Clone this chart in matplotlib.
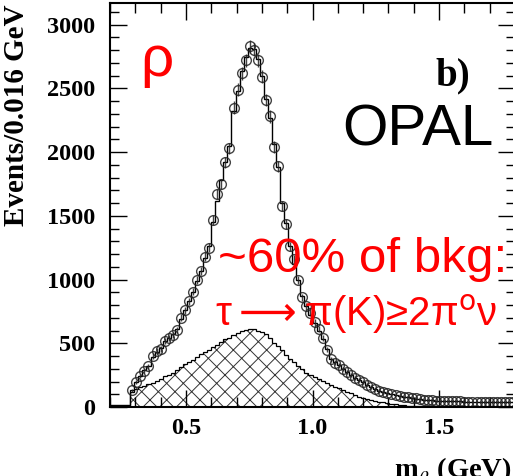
import numpy as np
import matplotlib
matplotlib.use("Agg")
import matplotlib.pyplot as plt
from matplotlib.ticker import MultipleLocator

# bins of 0.016 GeV from 0.2 to 1.8
bin_lo, bin_hi, bin_w = 0.2, 1.8, 0.016

# data points (bins 5..99)
data_counts = [130, 195, 240, 285, 318, 400, 440, 455, 520, 540,
               565, 605, 700, 760, 830, 905, 995, 1065, 1180, 1250,
               1465, 1670, 1750, 1920, 2030, 2350, 2490, 2620, 2720, 2830,
               2805, 2720, 2590, 2410, 2280, 2040, 1890, 1575, 1435, 1260,
               1160, 1000, 860, 790, 740, 665, 610, 540, 450, 375,
               345, 330, 300, 272, 248, 230, 212, 195, 175, 157,
               138, 122, 115, 108, 100, 92, 85, 80, 76, 72,
               68, 62, 58, 55, 52, 50, 48, 47, 46, 45,
               45, 44, 43, 43, 42, 42, 41, 41, 40, 40,
               40, 39, 39, 38, 38]

# total MC (all 100 bins)
mc_total = [12, 14, 15, 16, 18,
            120, 195, 245, 290, 325, 395, 430, 460, 515, 545,
            570, 610, 690, 760, 830, 905, 990, 1065, 1170, 1260,
            1450, 1620, 1780, 1920, 2050, 2320, 2480, 2640, 2750, 2820,
            2810, 2730, 2600, 2420, 2270, 2060, 1880, 1600, 1440, 1260,
            1120, 1000, 870, 790, 720, 660, 600, 530, 455, 380,
            350, 330, 300, 272, 250, 228, 212, 195, 175, 158,
            140, 124, 115, 108, 100, 92, 85, 80, 75, 70,
            66, 62, 58, 55, 52, 50, 48, 47, 46, 45,
            44, 44, 43, 42, 42, 41, 41, 40, 40, 40,
            39, 39, 38, 38, 38]

# background (all 100 bins)
bkg = [0, 0, 0, 0, 0,
       130, 145, 155, 165, 178, 188, 205, 220, 240, 255,
       270, 290, 310, 335, 355, 370, 395, 415, 435, 450,
       470, 490, 512, 530, 545, 565, 583, 597, 607, 614,
       612, 600, 588, 570, 540, 505, 475, 445, 410, 380,
       350, 320, 295, 270, 250, 235, 218, 205, 190, 175,
       158, 148, 135, 120, 108, 95, 82, 72, 62, 55,
       48, 42, 36, 32, 26, 21, 16, 13, 10, 8,
       6, 5, 4, 3, 2, 1, 1, 0, 0, 0,
       0, 0, 0, 0, 0, 0, 0, 0, 0, 0,
       0, 0, 0, 0, 0]

first_data_bin = 5

plt.rcParams['hatch.linewidth'] = 0.7
plt.rcParams['mathtext.fontset'] = 'stix'
serif = ['Liberation Serif', 'DejaVu Serif']
sans = ['Liberation Sans', 'DejaVu Sans']

W, H = 513, 476
fig = plt.figure(figsize=(W / 100, H / 100), dpi=100)
ax = fig.add_axes([110 / W, (H - 407) / H, 405 / W, 404 / H])

edges = np.arange(len(mc_total) + 1) * bin_w + bin_lo
centers = edges[:-1] + bin_w / 2

ax.stairs(bkg, edges, fill=True, facecolor='white', edgecolor='#333333',
          hatch='xx', linewidth=0.0)
ax.stairs(bkg, edges, color='black', linewidth=0.9)
ax.stairs(mc_total, edges, color='black', linewidth=1.0)

dc = np.array(data_counts, dtype=float)
ax.errorbar(centers[first_data_bin:], dc, yerr=np.sqrt(dc), fmt='o',
            mfc='none', mec='#222222', ecolor='#222222', ms=7, mew=1.0,
            elinewidth=1.0, capsize=0, alpha=0.85)

ax.set_xlim(bin_lo, bin_hi)
ax.set_ylim(0, 3170)
ax.xaxis.set_major_locator(MultipleLocator(0.5))
ax.xaxis.set_minor_locator(MultipleLocator(0.1))
ax.yaxis.set_major_locator(MultipleLocator(500))
ax.yaxis.set_minor_locator(MultipleLocator(100))
ax.tick_params(which='both', direction='in', top=True, right=True, width=1.0)
ax.tick_params(which='major', length=12)
ax.tick_params(axis='x', which='minor', length=7)
ax.tick_params(axis='y', which='minor', length=6.5)
ax.tick_params(axis='x', which='major', labelsize=17.5, pad=8)
ax.tick_params(axis='y', which='major', labelsize=17.5, pad=10.5)
for lab in ax.get_xticklabels() + ax.get_yticklabels():
    lab.set_family(serif)
    lab.set_fontweight('bold')
for s in ax.spines.values():
    s.set_linewidth(1.5)

ax.set_ylabel('Events/0.016 GeV', family=serif, fontweight='bold',
              fontsize=21)
ax.yaxis.set_label_coords(-80 / 405, 1 - 112 / 404)

def px(x, y):
    return x / W, 1 - y / H

fig.text(*px(512, 477), r'm$_\rho$ (GeV)', family=serif, fontweight='bold',
         fontsize=20.5, ha='right', va='baseline')

fig.text(*px(140, 76), 'ρ', color='red', family=sans, fontsize=42,
         ha='left', va='baseline')
fig.text(*px(435, 85), 'b)', color='black', family=serif, fontweight='bold',
         fontsize=28, ha='left', va='baseline')
fig.text(*px(342, 145), 'OPAL', color='black', family=sans, fontsize=42,
         ha='left', va='baseline')
fig.text(*px(218, 272), '~60% of bkg:', color='red', family=sans,
         fontsize=35.5, ha='left', va='baseline')
fig.text(*px(215, 326), r'τ$\longrightarrow$π(K)≥2π$^{\mathrm{o}}$ν',
         color='red', family=sans, fontsize=29,
         math_fontfamily='dejavusans', ha='left', va='baseline')

fig.savefig('out.png', dpi=100)
